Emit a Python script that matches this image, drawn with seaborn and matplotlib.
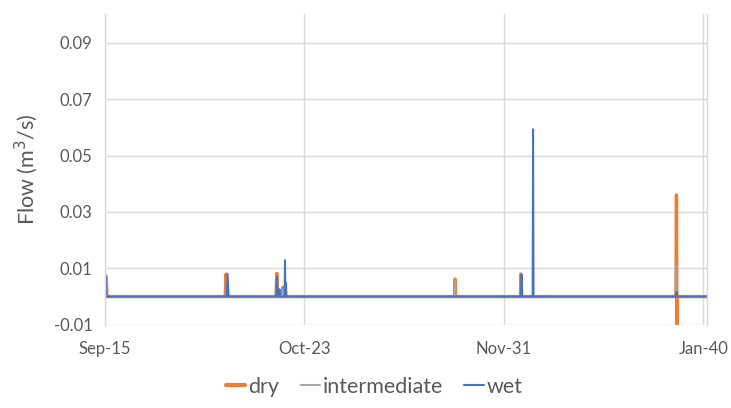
import matplotlib
matplotlib.use("Agg")
import matplotlib.pyplot as plt
import seaborn as sns
import pandas as pd

# Flow records (day offset, m^3/s) for the three scenarios
dry_day = [0.25, 0.4, 24.1, 24.3, 24.5, 34.3, 34.45, 34.6, 35.6, 35.7, 35.8,
           70.1, 70.2, 70.3, 83.3, 83.4, 83.5, 114.5, 114.6, 114.7, 114.8, 120.7]
dry_flow = [0.0070, 0.0, 0.0, 0.0080, 0.0, 0.0, 0.0082, 0.0, 0.0, 0.0033, 0.0,
            0.0, 0.0062, 0.0, 0.0, 0.0080, 0.0, 0.0, 0.0360, -0.0110, 0.0, 0.0]

intermediate_day = [0.25, 34.9, 35.0, 35.1, 35.6, 35.7, 35.8, 70.1, 70.2, 70.3,
                    114.5, 114.6, 114.7, 120.7]
intermediate_flow = [0.0, 0.0, 0.0026, 0.0, 0.0, 0.0030, 0.0, 0.0, 0.0059, 0.0,
                     0.0, 0.0112, 0.0, 0.0]

wet_day = [0.15, 0.3, 24.4, 24.6, 24.8, 34.35, 34.5, 34.65, 34.9, 35.0, 35.1,
           36.0, 36.1, 36.2, 36.3, 36.4, 83.4, 83.55, 83.7, 85.75, 85.85, 85.95,
           114.5, 114.6, 114.7, 120.7]
wet_flow = [0.0076, 0.0, 0.0, 0.0080, 0.0, 0.0, 0.0070, 0.0, 0.0, 0.0026, 0.0,
            0.0, 0.0129, 0.0, 0.0048, 0.0, 0.0, 0.0078, 0.0, 0.0, 0.0593, 0.0,
            0.0, 0.0017, 0.0, 0.0]

x_ticks = [0, 40, 80, 120]
x_tick_labels = ["Sep-15", "Oct-23", "Nov-31", "Jan-40"]
y_ticks = [-0.01, 0.01, 0.03, 0.05, 0.07, 0.09]

series = [
    ("dry", dry_day, dry_flow, "#ED7D31", 2.4),
    ("intermediate", intermediate_day, intermediate_flow, "#A5A5A5", 1.0),
    ("wet", wet_day, wet_flow, "#4472C4", 1.4),
]

sns.set_theme(style="white")
plt.rcParams["font.family"] = ["Lato", "DejaVu Sans"]

fig = plt.figure(figsize=(7.31, 4.08), dpi=100)
ax = fig.add_axes([0.1436, 0.204, 0.8234, 0.7605])

for name, days, flows, color, lw in series:
    df = pd.DataFrame({"day": days, "flow": flows})
    sns.lineplot(data=df, x="day", y="flow", ax=ax, color=color, linewidth=lw,
                 label=name, sort=False, estimator=None)

ax.set_xlim(0, 120.7)
ax.set_ylim(-0.01, 0.1)
ax.set_xticks(x_ticks)
ax.set_xticklabels(x_tick_labels)
ax.set_yticks(y_ticks)
ax.set_yticklabels([f"{v:.2f}" for v in y_ticks])
ax.tick_params(axis="both", length=0, labelsize=12, colors="#595959")
ax.tick_params(axis="x", pad=12)
ax.tick_params(axis="y", pad=9)
ax.grid(True, color="#D9D9D9", linewidth=1.0)
ax.set_axisbelow(True)
for side in ["top", "bottom"]:
    ax.spines[side].set_visible(False)
for side in ["left", "right"]:
    ax.spines[side].set_color("#D9D9D9")
    ax.spines[side].set_linewidth(1.0)

ax.set_xlabel("")
ax.set_ylabel("Flow (m$^3$/s)", fontsize=15.5, color="#595959", labelpad=10)

ax.legend_.remove()
handles, labels = ax.get_legend_handles_labels()
leg = fig.legend(handles, labels, loc="center", bbox_to_anchor=(0.512, 0.052),
                 ncol=3, frameon=False, fontsize=15.5, handlelength=0.9,
                 handletextpad=0.12, columnspacing=1.0, labelcolor="#595959")
for line, (_, _, _, _, lw) in zip(leg.get_lines(), series):
    line.set_linewidth(3.0 if lw > 2 else 1.5)

fig.savefig("out.png", dpi=100)
